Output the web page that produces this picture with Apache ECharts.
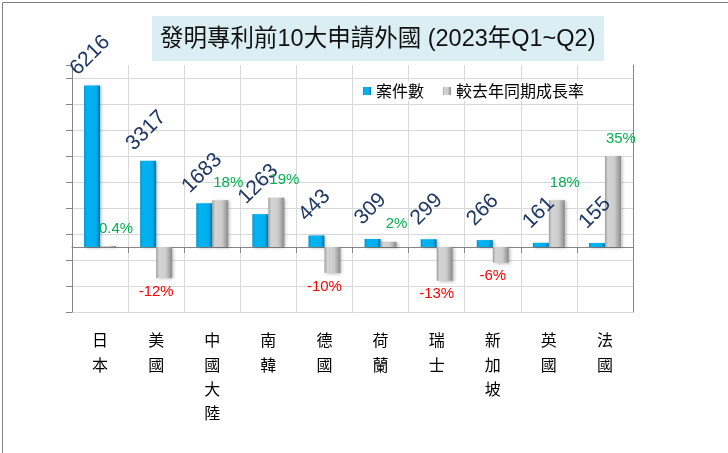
<!DOCTYPE html>
<html>
<head>
<meta charset="utf-8">
<script src="https://cdn.jsdelivr.net/npm/echarts@6/dist/echarts.min.js"></script>
<style>
html,body{margin:0;padding:0;background:#fff;}
#chart{width:728px;height:453px;}
</style>
</head>
<body>
<div id="chart"></div>
<script>
// ---- data ----
var titleText = '發明專利前10大申請外國 (2023年Q1~Q2)';
var seriesNames = ['案件數', '較去年同期成長率'];
var categories = ['日本', '美國', '中國大陸', '南韓', '德國', '荷蘭', '瑞士', '新加坡', '英國', '法國'];
var caseCounts = [6216, 3317, 1683, 1263, 443, 309, 299, 266, 161, 155];
var growthRates = [0.4, -12, 18, 19, -10, 2, -13, -6, 18, 35];

// ---- styles ----
var FONT = 'Liberation Sans, Arial, Noto Sans CJK TC, sans-serif';
var CJK = 'Noto Sans CJK TC, Liberation Sans, sans-serif';
var gridColor = '#D9D9D9';
var axisColor = '#868686';

var blueFill = new echarts.graphic.LinearGradient(0, 0, 1, 0, [
  {offset: 0, color: '#0096D2'},
  {offset: 0.18, color: '#00B4F2'},
  {offset: 0.75, color: '#00AEEE'},
  {offset: 1, color: '#0074A6'}
]);
var greyFill = new echarts.graphic.LinearGradient(0, 0, 1, 0, [
  {offset: 0, color: '#9C9C9C'},
  {offset: 0.18, color: '#D4D4D4'},
  {offset: 0.6, color: '#CDCDCD'},
  {offset: 1, color: '#8A8A8A'}
]);

var growthData = growthRates.map(function (v) {
  var neg = v < 0;
  return {
    value: v,
    label: {
      color: neg ? '#FF0000' : '#00B050',
      position: neg ? 'bottom' : 'top',
      distance: neg ? 6 : 10,
      offset: [neg ? -8 : 8, 0]
    }
  };
});

var chart = echarts.init(document.getElementById('chart'), null, {renderer: 'canvas'});
chart.setOption({
  animation: false,
  backgroundColor: '#ffffff',
  graphic: [
    {type: 'rect', left: 0, top: 0, z: 0, silent: true,
     shape: {x: 0.5, y: 0.5, width: 727, height: 452},
     style: {fill: 'none', stroke: '#7F7F7F', lineWidth: 1}},
    {type: 'rect', z: 1, silent: true,
     shape: {x: 152, y: 16, width: 452, height: 45},
     style: {fill: '#DAEEF3'}},
    {type: 'text', z: 2, silent: true, x: 160, y: 39.5,
     style: {text: titleText, font: '23.5px ' + FONT, fill: '#111111',
             textAlign: 'left', textVerticalAlign: 'middle'}}
  ],
  legend: {
    left: 359, top: 81, padding: [2, 4, 2, 4],
    backgroundColor: '#ffffff',
    itemWidth: 8, itemHeight: 8, itemGap: 19,
    icon: 'rect',
    textStyle: {fontFamily: CJK, fontSize: 16, color: '#000000', padding: [0, 0, 0, 0]},
    data: seriesNames
  },
  grid: {left: 72, right: 95, top: 65, bottom: 141, containLabel: false, outerBoundsMode: 'none'},
  xAxis: {
    type: 'category',
    data: categories,
    axisLine: {show: true, onZero: true, lineStyle: {color: axisColor, width: 1}},
    axisTick: {show: true, length: 6, lineStyle: {color: axisColor}},
    splitLine: {show: true, lineStyle: {color: gridColor, width: 1}},
    axisLabel: {
      margin: 16,
      fontFamily: CJK, fontSize: 16, color: '#000000', lineHeight: 24.3,
      interval: 0,
      formatter: function (v) { return v.split('').join('\n'); }
    }
  },
  yAxis: [
    {
      type: 'value', min: -2500, max: 7000, interval: 1000,
      axisLine: {show: true, lineStyle: {color: axisColor}},
      axisTick: {show: true, length: 6, lineStyle: {color: axisColor}},
      axisLabel: {show: false},
      splitLine: {show: true, showMaxLine: false, showMinLine: true,
                  lineStyle: {color: gridColor, width: 1}}
    },
    {
      type: 'value', min: -25, max: 70, interval: 10, position: 'right',
      axisLine: {show: true, lineStyle: {color: axisColor}},
      axisTick: {show: false},
      axisLabel: {show: false},
      splitLine: {show: false}
    }
  ],
  series: [
    {
      name: seriesNames[0], type: 'bar', yAxisIndex: 0,
      data: caseCounts,
      barWidth: 16, barGap: '0%',
      itemStyle: {color: blueFill, shadowBlur: 3, shadowOffsetX: 2, shadowOffsetY: 1,
                  shadowColor: 'rgba(0,0,0,0.25)'},
      label: {
        show: true, position: [6, -30], rotate: 45,
        align: 'center', verticalAlign: 'middle',
        fontFamily: FONT, fontSize: 21, color: '#1F3864'
      },
      z: 3
    },
    {
      name: seriesNames[1], type: 'bar', yAxisIndex: 1,
      data: growthData,
      barWidth: 16, barGap: '0%',
      itemStyle: {color: greyFill, shadowBlur: 3, shadowOffsetX: 2, shadowOffsetY: 1,
                  shadowColor: 'rgba(0,0,0,0.25)'},
      label: {
        show: true,
        fontFamily: FONT, fontSize: 15,
        formatter: function (p) { return p.value + '%'; }
      },
      z: 3
    }
  ]
});
</script>
</body>
</html>
